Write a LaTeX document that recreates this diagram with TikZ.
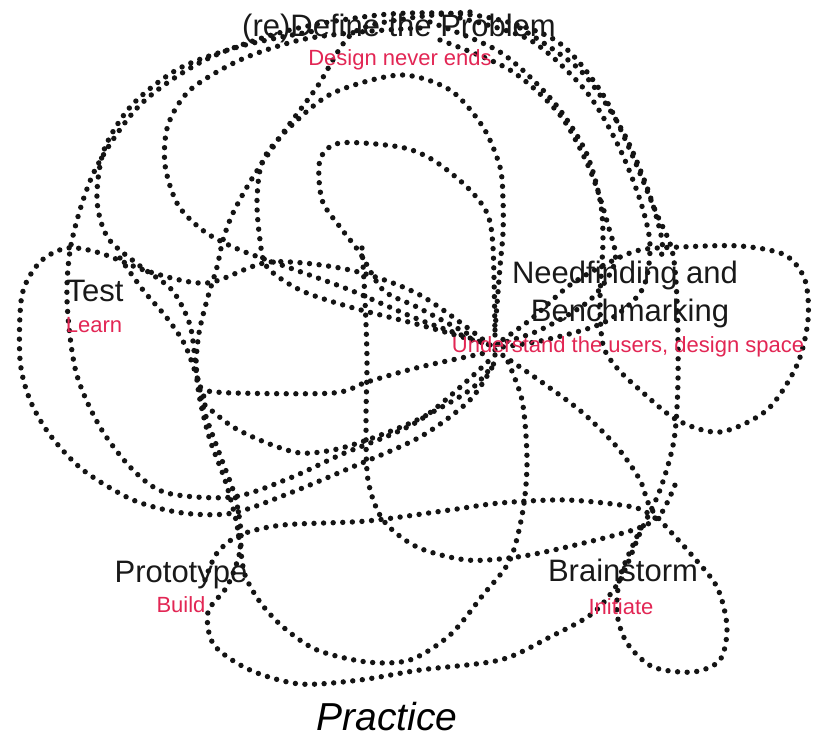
\documentclass[tikz,border=0pt]{standalone}
\usepackage{fontspec}
\setmainfont{Liberation Sans}
\usetikzlibrary{positioning}
\definecolor{inkred}{RGB}{226,38,84}
\tikzset{
  scribble/.style={line width=5.4pt, line cap=round, dash pattern=on 0pt off 9.6pt, black!92},
  stage/.style={anchor=base, inner sep=0pt, text=black!90, font=\fontsize{31}{34}\selectfont},
  motto/.style={anchor=base, inner sep=0pt, text=inkred, font=\fontsize{22}{24}\selectfont},
}

\begin{document}
\begin{tikzpicture}[x=1pt,y=-1pt]
\useasboundingbox (0,0) rectangle (823,738);

% the scribble, loop by loop
\draw[scribble] plot[smooth] coordinates {(495,355) (420,420) (340,455) (290,478) (233,497) (167,493) (133,470) (100,427) (76,372) (67,300) (72,240) (95,170) (140,105) (205,60) (290,30) (390,14) (480,16) (555,40) (600,90) (630,150) (655,210) (672,250) (677,300) (678,380) (674,440) (660,490) (640,533) (620,580) (593,613) (550,637) (500,660) (420,670) (360,680) (300,684) (250,670) (214,645) (208,612) (228,585) (241,545) (236,500) (220,455) (204,410) (196,367) (190,325) (172,290) (140,266) (108,238) (97,200) (104,150) (132,105) (180,68) (245,45) (320,30)};
\draw[scribble] plot[smooth] coordinates {(490,345) (420,295) (350,270) (270,262) (207,283) (150,272) (100,253) (67,248) (40,262) (22,295) (20,360) (30,400) (50,435) (83,470) (133,500) (183,513) (233,513) (290,493) (350,468) (420,437) (470,400) (495,362)};
\draw[scribble] plot[smooth] coordinates {(420,28) (360,32) (300,40) (240,60) (190,90) (168,125) (165,165) (178,205) (205,232) (240,250) (290,268) (350,290) (420,320) (490,345)};
\draw[scribble] plot[smooth] coordinates {(470,12) (410,18) (353,33) (317,87) (283,133) (253,177) (233,213) (223,240) (217,267) (207,300) (199,333) (196,367) (200,400) (210,440) (225,480) (236,520) (240,545) (245,575) (260,602) (283,627) (317,650) (367,662) (410,660) (450,635) (483,595) (510,560) (523,510) (527,460) (522,400) (505,355)};
\draw[scribble] plot[smooth] coordinates {(495,330) (500,267) (503,233) (503,200) (500,167) (483,127) (450,90) (400,75) (333,93) (290,127) (263,160) (257,200) (260,240) (267,267) (300,290) (350,307) (420,325) (490,345)};
\draw[scribble] plot[smooth] coordinates {(495,335) (493,247) (487,213) (467,187) (433,160) (400,147) (340,143) (320,160) (322,200) (340,227) (360,253) (383,290) (417,307) (470,335)};
\draw[scribble] plot[smooth] coordinates {(430,22) (500,52) (552,100) (585,150) (600,200) (603,240) (600,300) (603,345) (617,368) (640,390) (677,420) (720,432) (767,410) (797,365) (808,320) (805,280) (785,255) (740,246) (680,247) (640,250) (610,262) (570,285) (530,320) (495,345)};
\draw[scribble] plot[smooth] coordinates {(460,18) (530,40) (585,90) (618,145) (640,200) (650,245) (642,290) (605,322) (545,340) (495,348)};
\draw[scribble] plot[smooth] coordinates {(520,28) (580,70) (622,130) (648,190) (662,240) (660,262)};
\draw[scribble] plot[smooth] coordinates {(440,40) (510,70) (560,115) (590,170) (608,225) (615,262) (590,300) (540,330) (495,345)};
\draw[scribble] plot[smooth] coordinates {(495,350) (543,383) (583,413) (617,447) (640,480) (652,510) (690,553) (717,587) (727,627) (720,660) (693,672) (653,667) (627,643) (617,613) (620,577) (633,545) (645,520)};
\draw[scribble] plot[smooth] coordinates {(205,580) (217,553) (240,535) (283,525) (367,521) (450,510) (500,503) (567,500) (633,507) (655,518)};
\draw[scribble] plot[smooth] coordinates {(362,248) (365,300) (367,360) (366,420) (368,480) (383,520) (417,547) (467,560) (517,557) (567,547) (633,530) (660,515) (677,480)};
\draw[scribble] plot[smooth] coordinates {(200,390) (233,393) (333,393) (367,382) (420,367) (490,352)};
\draw[scribble] plot[smooth] coordinates {(205,405) (233,427) (267,443) (300,453) (333,450) (367,440) (417,420) (470,390) (495,362)};
\draw[scribble] plot[smooth] coordinates {(120,258) (143,290) (167,318) (185,345) (198,380) (205,400)};

% stages
\node[stage] (define) at (399,37) {(re)Define the Problem};
\node[motto] (defsub) at (400,66) {Design never ends};
\node[stage] (test) at (95,302) {Test};
\node[motto] (testsub) at (94,333) {Learn};
\node[stage] (need) at (625,284) {Needfinding and};
\node[stage] (needb) at (630,322) {Benchmarking};
\node[motto] (needsub) at (628,353) {Understand the users, design space};
\node[stage] (proto) at (181,582) {Prototype};
\node[motto] (protosub) at (181,612) {Build};
\node[stage] (brain) at (623,581) {Brainstorm};
\node[motto] (brainsub) at (621,614) {Initiate};
\node[anchor=base, inner sep=0pt, font=\fontsize{39}{42}\selectfont\itshape] (practice) at (387,730) {Practice};
\end{tikzpicture}
\end{document}
